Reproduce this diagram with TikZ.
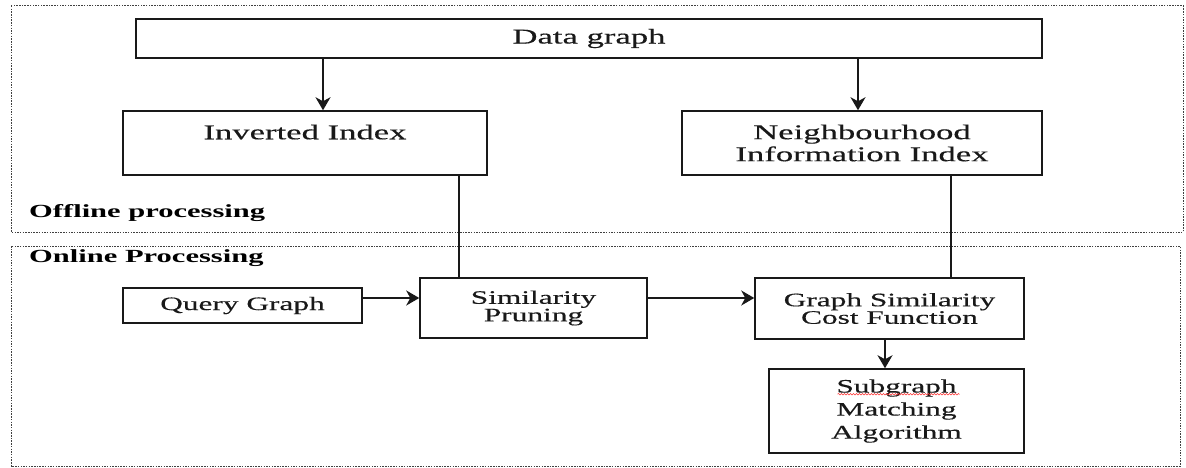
\documentclass[tikz,border=0pt]{standalone}
\usepackage{fontspec}
\setmainfont{Liberation Serif}
\newfontfamily\widefont[FakeStretch=1.65, FakeBold=0.35]{Liberation Serif}
\newfontfamily\widebold[FakeStretch=1.65]{Liberation Serif Bold}
\usetikzlibrary{arrows.meta}
\usetikzlibrary{decorations.pathmorphing}
\tikzset{> = {Stealth[length=13pt, width=15pt, inset=4pt]}, x = 1pt, y = -1pt}
\tikzset{
  box/.style = {draw = black!90, line width = 1.5pt, inner sep = 0pt, align = center, text = black!90, fill = white},
  upbox/.style = {box, font = \widefont\fontsize{21}{22}\selectfont},
  lowbox/.style = {box, font = \widefont\fontsize{19}{17.5}\selectfont},
  stage/.style = {draw = black!75, line width = 1pt, dash pattern = on 1.5pt off 1.2pt},
  stagelabel/.style = {anchor = west, inner sep = 0pt, text = black, font = \widebold\fontsize{18.5}{20}\selectfont},
  link/.style = {draw = black!90, line width = 1.5pt}
}

\begin{document}
\begin{tikzpicture}
  \useasboundingbox (0,0) rectangle (1186,468);
  % stages
  \draw [stage] (11,6) rectangle (1183,232);
  \draw [stage] (11,246) rectangle (1180,466);
  \node [stagelabel] (offline) at (29,213) {Offline processing};
  \node [stagelabel] (online) at (29,258) {Online Processing};
  % nodes
  \node [upbox, minimum width = 906pt, minimum height = 39pt] (data) at (589,38.5) {Data graph};
  \node [upbox, minimum width = 364pt, minimum height = 64pt] (inv) at (305,143) {Inverted Index\\ \phantom{I}};
  \node [upbox, minimum width = 360pt, minimum height = 64pt] (nbr) at (862,143) {Neighbourhood\\ Information Index};
  \node [lowbox, minimum width = 239pt, minimum height = 35pt] (qry) at (242.5,305.5) {Query Graph};
  \node [lowbox, minimum width = 227pt, minimum height = 60pt] (sim) at (533.5,308) {Similarity\\ Pruning};
  \node [lowbox, minimum width = 269pt, minimum height = 61pt] (gsc) at (889.5,308.5) {Graph Similarity\\ Cost Function};
  \node [lowbox, minimum width = 255pt, minimum height = 84pt, font = \widefont\fontsize{19}{23}\selectfont] (sub) at (896.5,411) {Subgraph\\ Matching\\ Algorithm};
  % paths
  \draw [link, ->] ([xshift = 18pt]inv.north |- data.south) -- ([xshift = 18pt]inv.north);
  \draw [link, ->] ([xshift = -4pt]nbr.north |- data.south) -- ([xshift = -4pt]nbr.north);
  \draw [link] ([xshift = 154pt]inv.south) -- ([xshift = 154pt]inv.south |- sim.north);
  \draw [link] ([xshift = 89pt]nbr.south) -- ([xshift = 89pt]nbr.south |- gsc.north);
  \draw [link, ->] ([yshift = 7.5pt]qry.east) -- ([yshift = 7.5pt]qry.east -| sim.west);
  \draw [link, ->] ([yshift = 10pt]sim.east) -- ([yshift = 10pt]sim.east -| gsc.west);
  \draw [link, ->] ([xshift = -4.5pt]gsc.south) -- ([xshift = -4.5pt]gsc.south |- sub.north);
  % spelling mark
  \draw [red!80, line width = 0.5pt, decorate, decoration = {snake, amplitude = 0.8pt, segment length = 3pt}]
    ([xshift = -59pt, yshift = -26pt]sub.north) -- ([xshift = 63pt, yshift = -26pt]sub.north);
\end{tikzpicture}
\end{document}
